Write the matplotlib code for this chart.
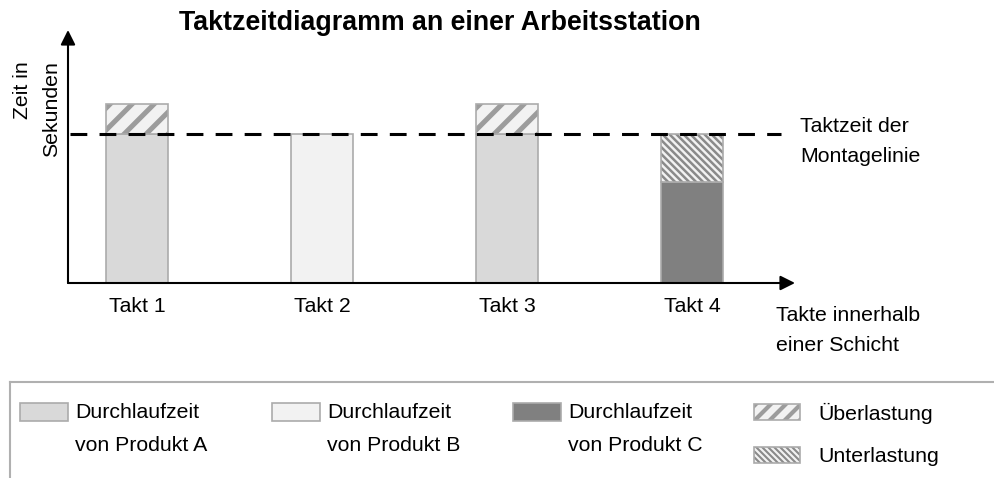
import matplotlib
matplotlib.use("Agg")
import matplotlib.pyplot as plt
from matplotlib.patches import Rectangle
from matplotlib.lines import Line2D
from matplotlib.collections import LineCollection
from matplotlib.transforms import IdentityTransform

plt.rcParams['font.family'] = ['Liberation Sans', 'DejaVu Sans']

# ---- data ----
categories = ['Takt 1', 'Takt 2', 'Takt 3', 'Takt 4']
durchlaufzeit = [100, 100, 100, 68]
produkt = ['A', 'B', 'A', 'C']
ueberlastung = [20, 0, 20, 0]
unterlastung = [0, 0, 0, 32]
taktzeit = 100

produkt_farbe = {'A': '#d9d9d9', 'B': '#f2f2f2', 'C': '#808080'}
legend_labels = ['Durchlaufzeit\nvon Produkt A', 'Durchlaufzeit\nvon Produkt B',
                 'Durchlaufzeit\nvon Produkt C']

W, H = 995, 478
FS = 15.3
fig = plt.figure(figsize=(W / 100, H / 100), dpi=100)

def fx(x):
    return x / W

def fy(y):
    return 1 - y / H

def stripes(patch, period, lw, color, direction, parent):
    """Diagonal stripe styling clipped to a patch (display pixel space)."""
    bb = patch.get_window_extent()
    x0, x1, y0, y1 = bb.x0, bb.x1, bb.y0, bb.y1
    segs = []
    if direction > 0:
        c = y0 - x1 - period
        while c <= y1 - x0 + period:
            segs.append([(x0 - 20, x0 - 20 + c), (x1 + 20, x1 + 20 + c)])
            c += period
    else:
        c = x0 + y0 - period
        while c <= x1 + y1 + period:
            segs.append([(x0 - 20, -(x0 - 20) + c), (x1 + 20, -(x1 + 20) + c)])
            c += period
    lc = LineCollection(segs, colors=color, linewidths=lw,
                        transform=IdentityTransform(), zorder=2.5)
    if parent is fig:
        fig.add_artist(lc)
    else:
        parent.add_collection(lc, autolim=False)
    lc.set_clip_path(patch)

ax = fig.add_axes([fx(68), fy(283), fx(795) - fx(68), fy(30) - fy(283)])
ax.set_xlim(-0.373, 3.557)
ax.set_ylim(0, 170)
ax.set_autoscale_on(False)
for s in ax.spines.values():
    s.set_visible(False)
ax.set_yticks([])

x = list(range(len(categories)))
bw = 0.335
edge = '#ababab'
OV_BG, OV_FG = '#f2f2f2', '#9c9c9c'
UN_BG, UN_FG = '#f2f2f2', '#8a8a8a'

for i in x:
    ax.bar(i, durchlaufzeit[i], width=bw, color=produkt_farbe[produkt[i]],
           edgecolor=edge, linewidth=1.2, zorder=2)
    if ueberlastung[i] > 0:
        b = ax.bar(i, ueberlastung[i], bottom=durchlaufzeit[i], width=bw,
                   color=OV_BG, linewidth=0, zorder=2)
        stripes(b[0], 22, 3.6, OV_FG, 1, ax)
        ax.bar(i, ueberlastung[i], bottom=durchlaufzeit[i], width=bw,
               fill=False, edgecolor=edge, linewidth=1.2, zorder=2.6)
    if unterlastung[i] > 0:
        b = ax.bar(i, unterlastung[i], bottom=durchlaufzeit[i], width=bw,
                   color=UN_BG, linewidth=0, zorder=2)
        stripes(b[0], 7, 1.8, UN_FG, -1, ax)
        ax.bar(i, unterlastung[i], bottom=durchlaufzeit[i], width=bw,
               fill=False, edgecolor=edge, linewidth=1.2, zorder=2.6)

# Taktzeit line
ax.hlines(taktzeit, -0.362, 3.48, colors='black', linewidth=2.2,
          linestyles=(0, (5.5, 4)), zorder=3)

ax.set_xticks(x)
ax.set_xticklabels(categories, fontsize=FS)
ax.tick_params(axis='x', length=0, pad=10)

# axis arrows
ax.annotate('', xy=(1, 0), xytext=(0, 0), xycoords='axes fraction',
            arrowprops=dict(arrowstyle='-|>', color='black', lw=1.5,
                            mutation_scale=22, shrinkA=0, shrinkB=0),
            annotation_clip=False)
ax.annotate('', xy=(0, 1), xytext=(0, 0), xycoords='axes fraction',
            arrowprops=dict(arrowstyle='-|>', color='black', lw=1.5,
                            mutation_scale=22, shrinkA=0, shrinkB=0),
            annotation_clip=False)

# texts
fig.text(fx(440), fy(23), 'Taktzeitdiagramm an einer Arbeitsstation',
         fontsize=19.3, fontweight='bold', ha='center', va='center')
fig.text(fx(37), fy(109), 'Zeit in\nSekunden', rotation=90, fontsize=FS,
         ha='center', va='center', linespacing=1.68, multialignment='right')
fig.text(fx(800), fy(141.5), 'Taktzeit der\nMontagelinie', fontsize=FS,
         ha='left', va='center', linespacing=1.7)
fig.text(fx(776), fy(330.5), 'Takte innerhalb\neiner Schicht', fontsize=FS,
         ha='left', va='center', linespacing=1.7)

# legend frame
fig.add_artist(Line2D([fx(10), fx(995)], [fy(382), fy(382)],
                      transform=fig.transFigure, color='#b0b0b0', lw=1.5))
fig.add_artist(Line2D([fx(10), fx(10)], [fy(382), fy(478)],
                      transform=fig.transFigure, color='#b0b0b0', lw=1.5))

leg_x = [20, 272, 513]
for lx, p, lab in zip(leg_x, ['A', 'B', 'C'], legend_labels):
    fig.add_artist(Rectangle((fx(lx), fy(421)), fx(48), fy(403) - fy(421),
                             transform=fig.transFigure,
                             facecolor=produkt_farbe[p], edgecolor=edge, lw=1.2))
    fig.text(fx(lx + 55), fy(429), lab, fontsize=FS, ha='left', va='center',
             linespacing=1.98)

r = Rectangle((fx(754), fy(420)), fx(46), fy(404) - fy(420),
              transform=fig.transFigure, facecolor=OV_BG, lw=0)
fig.add_artist(r)
stripes(r, 15, 3.0, OV_FG, 1, fig)
fig.add_artist(Rectangle((fx(754), fy(420)), fx(46), fy(404) - fy(420),
                         transform=fig.transFigure, fill=False,
                         edgecolor=edge, lw=1.2, zorder=3))
r = Rectangle((fx(754), fy(463)), fx(46), fy(447) - fy(463),
              transform=fig.transFigure, facecolor=UN_BG, lw=0)
fig.add_artist(r)
stripes(r, 6, 1.5, UN_FG, -1, fig)
fig.add_artist(Rectangle((fx(754), fy(463)), fx(46), fy(447) - fy(463),
                         transform=fig.transFigure, fill=False,
                         edgecolor=edge, lw=1.2, zorder=3))
fig.text(fx(818), fy(413), 'Überlastung', fontsize=FS, ha='left', va='center')
fig.text(fx(818), fy(457), 'Unterlastung', fontsize=FS, ha='left', va='center')

fig.savefig('out.png', dpi=100)
